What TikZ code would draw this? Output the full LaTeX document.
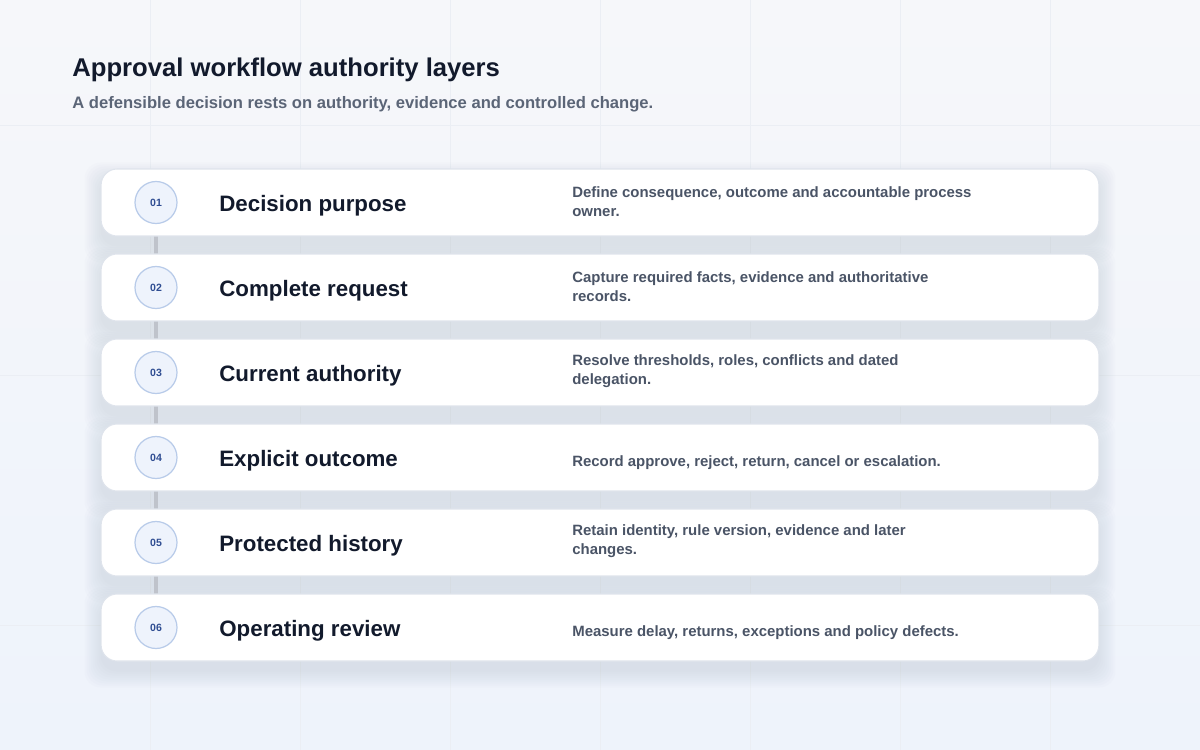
\documentclass[tikz,border=0pt]{standalone}
\usepackage{fontspec}
\setmainfont{Liberation Sans}
\usetikzlibrary{positioning}

\definecolor{ink}{HTML}{121A2C}
\definecolor{muted}{HTML}{4A5466}
\definecolor{subink}{HTML}{5B6577}
\definecolor{cardline}{HTML}{DFE4EC}
\definecolor{badgefill}{HTML}{EEF3FC}
\definecolor{badgeline}{HTML}{B8CBE9}
\definecolor{badgetext}{HTML}{2F4D92}
\definecolor{linkgray}{HTML}{BFC3CB}
\definecolor{gridline}{HTML}{EBEEF4}
\definecolor{shadowc}{HTML}{8E9AB4}
\definecolor{bgtop}{HTML}{F6F7FA}
\definecolor{bgbottom}{HTML}{EEF3FB}

\pgfdeclarelayer{bg}
\pgfdeclarelayer{mid}
\pgfsetlayers{bg,mid,main}

\begin{document}
\begin{tikzpicture}[
    x=0.02cm, y=-0.02cm, % one unit per pixel, y pointing down
    card/.style ={draw=cardline, fill=white, line width=0.6pt,
        rounded corners=0.32cm, minimum width=19.96cm, minimum height=1.34cm},
    badge/.style ={circle, draw=badgeline, fill=badgefill, line width=0.7pt,
        minimum size=0.84cm, inner sep=0pt, text=badgetext,
        font=\bfseries\fontsize{6}{7}\selectfont},
    head/.style ={anchor=west, inner sep=0pt, text=ink,
        font=\bfseries\fontsize{12.7}{15}\selectfont},
    note/.style ={anchor=west, inner sep=0pt, align=left, text=muted,
        font=\bfseries\fontsize{8.5}{10.8}\selectfont},
    link/.style ={draw=linkgray, line width=2.1pt},
    grid/.style ={draw=gridline, line width=0.4pt},
]
\useasboundingbox (0,0) rectangle (1200,750);

% background and faint grid
\begin{pgfonlayer}{bg}
    \shade[top color=bgtop, bottom color=bgbottom] (0,0) rectangle (1200,750);
    \foreach \gx in {150,300,...,1050}
        \draw[grid] (\gx,0) -- (\gx,750);
    \foreach \gy in {125,375,625}
        \draw[grid] (0,\gy) -- (1200,\gy);
\end{pgfonlayer}

\node[anchor=base west, inner sep=0pt, text=ink,
    font=\bfseries\fontsize{14.6}{17}\selectfont] (title) at (72,77)
    {Approval workflow authority layers};
\node[anchor=base west, inner sep=0pt, text=subink,
    font=\bfseries\fontsize{9.45}{11}\selectfont] (subtitle) at (72,108.5)
    {A defensible decision rests on authority, evidence and controlled change.};

% the six layers
\foreach \head/\note/\dy [count=\i] in {
    {Decision purpose}/{Define consequence, outcome and accountable process\\owner.}/-1,
    {Complete request}/{Capture required facts, evidence and authoritative\\records.}/-1,
    {Current authority}/{Resolve thresholds, roles, conflicts and dated\\delegation.}/-1,
    {Explicit outcome}/{Record approve, reject, return, cancel or escalation.}/5,
    {Protected history}/{Retain identity, rule version, evidence and later\\changes.}/-1,
    {Operating review}/{Measure delay, returns, exceptions and policy defects.}/5}
{
    \pgfmathsetmacro{\cy}{202.5+85*(\i-1)}
    \node[card] (card\i) at (600,\cy) {};
    \node[badge] (badge\i) at (156,\cy) {0\i};
    \node[head] (head\i) at (219,\cy+3) {\head};
    \node[note] (note\i) at (572,\cy+\dy) {\note};
    % soft shadow under the card
    \begin{pgfonlayer}{bg}
        \foreach \k in {0,2,...,16}
            \fill[shadowc, opacity=0.022, rounded corners=0.32cm]
                ([shift={(-\k,10-\k)}]card\i.north west)
                rectangle ([shift={(\k,10+\k)}]card\i.south east);
    \end{pgfonlayer}
}

% connectors between the badges, seen in the gaps
\begin{pgfonlayer}{mid}
    \foreach \i [evaluate=\i as \j using int(\i+1)] in {1,...,5}
        \draw[link] (badge\i) -- (badge\j);
\end{pgfonlayer}
\end{tikzpicture}
\end{document}
